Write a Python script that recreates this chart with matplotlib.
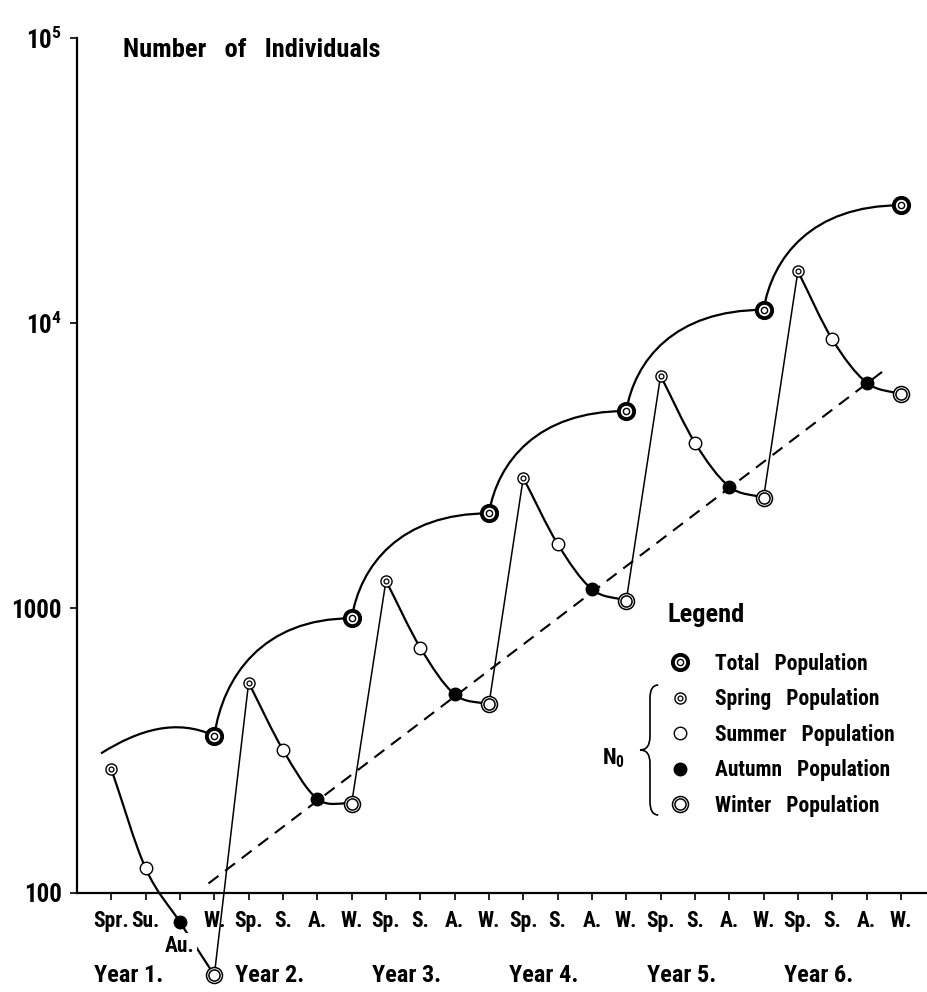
import numpy as np
import matplotlib
matplotlib.use('Agg')
import matplotlib.pyplot as plt
from matplotlib import font_manager
from matplotlib.path import Path
from matplotlib.patches import PathPatch
from matplotlib.lines import Line2D

# season positions 0..23 (Spr, Su, Au, W of year 1 then Sp, S, A, W ...)
tick_labels = ['Spr.', 'Su.', '', 'W.'] + ['Sp.', 'S.', 'A.', 'W.'] * 5
year_labels = ['Year 1.', 'Year 2.', 'Year 3.', 'Year 4.', 'Year 5.', 'Year 6.']

spring_x = [0, 4, 8, 12, 16, 20]
spring_y = [272, 547, 1247, 2864, 6531, 15200]
summer_x = [1, 5, 9, 13, 17, 21]
summer_y = [122, 318, 726, 1679, 3802, 8770]
autumn_x = [2, 6, 10, 14, 18, 22]
autumn_y = [79, 214, 498, 1164, 2667, 6181]
winter_x = [3, 7, 11, 15, 19, 23]
winter_y = [51.5, 206, 459, 1062, 2438, 5624]

# total population (first value is where the year 1 curve starts)
total_x = [-0.3, 3, 7, 11, 15, 19, 23]
total_y = [309, 356, 920, 2148, 4911, 11120, 25880]

# dashed trend line
trend_x = [2.83, 22.49]
trend_y = [108, 6790]

# pick a condensed face if one is installed
fonts = font_manager.fontManager.ttflist
names = {f.name for f in fonts}
fam, stretch, narrow = 'Liberation Sans', 'normal', False
for cand in ['Roboto Condensed', 'Liberation Sans Narrow', 'Open Sans Condensed',
             'Noto Sans Condensed', 'DejaVu Sans Condensed']:
    if cand in names:
        fam, narrow = cand, True
        break
if not narrow:
    for f in fonts:
        if f.stretch in ('condensed', 'semi-condensed') and f.name in (
                'DejaVu Sans', 'Noto Sans', 'Open Sans', 'Roboto'):
            fam, stretch, narrow = f.name, f.stretch, True
            break

plt.rcParams['font.family'] = fam
plt.rcParams['font.stretch'] = stretch
plt.rcParams['font.weight'] = 'bold'
plt.rcParams['mathtext.fontset'] = 'custom'
plt.rcParams['mathtext.rm'] = fam + ':bold'
plt.rcParams['mathtext.it'] = fam + ':bold'
plt.rcParams['mathtext.bf'] = fam + ':bold'

k_fs = 1.0 if narrow else 0.85
fs_tick = 15.5 * k_fs
fs_year = 17.5 * k_fs
fs_leg = 15.5 * k_fs
fs_title = 19 * k_fs


def smooth_path(xs, ys):
    # catmull-rom through the points, done in log space
    lx = np.asarray(xs, float)
    ly = np.log10(ys)
    mx = np.gradient(lx)
    my = np.gradient(ly)
    verts = [(lx[0], ly[0])]
    codes = [Path.MOVETO]
    for i in range(len(lx) - 1):
        verts += [(lx[i] + mx[i] / 3, ly[i] + my[i] / 3),
                  (lx[i + 1] - mx[i + 1] / 3, ly[i + 1] - my[i + 1] / 3),
                  (lx[i + 1], ly[i + 1])]
        codes += [Path.CURVE4] * 3
    verts = [(a, 10 ** b) for a, b in verts]
    return Path(verts, codes)


def total_path(xs, ys):
    lx = list(xs)
    ly = list(np.log10(ys))
    # year 1: gentle arc
    verts = [(lx[0], ly[0]),
             (lx[0] + 1.1, ly[0] + 0.083),
             (lx[1] - 1.1, ly[1] + 0.062),
             (lx[1], ly[1])]
    codes = [Path.MOVETO] + [Path.CURVE4] * 3
    # later years: fast rise then level off
    for i in range(1, len(lx) - 1):
        dl = ly[i + 1] - ly[i]
        verts += [(lx[i] + 0.25, ly[i] + 0.5 * dl),
                  (lx[i] + 1.4, ly[i + 1]),
                  (lx[i + 1], ly[i + 1])]
        codes += [Path.CURVE4] * 3
    verts = [(a, 10 ** b) for a, b in verts]
    return Path(verts, codes)


fig = plt.figure(figsize=(9.28, 9.92), dpi=100)
ax = fig.add_axes([77 / 928, 99 / 992, 851 / 928, 855 / 992])
ax.set_yscale('log')
ax.set_xlim(-1, 23.79)
ax.set_ylim(100, 1e5)

# seasonal curves (spring -> winter) and the jumps winter -> next spring
for k in range(6):
    xs = [spring_x[k], summer_x[k], autumn_x[k], winter_x[k]]
    ys = [spring_y[k], summer_y[k], autumn_y[k], winter_y[k]]
    ax.add_patch(PathPatch(smooth_path(xs, ys), fill=False, ec='black',
                           lw=1.6, clip_on=False, zorder=2))
    if k < 5:
        ax.plot([winter_x[k], spring_x[k + 1]], [winter_y[k], spring_y[k + 1]],
                color='black', lw=1.1, clip_on=False, zorder=2)

ax.add_patch(PathPatch(total_path(total_x, total_y), fill=False, ec='black',
                       lw=1.6, clip_on=False, zorder=2))

ax.plot(trend_x, trend_y, color='black', lw=1.5, dashes=(6, 4), zorder=2)

# markers
mk = dict(linestyle='none', marker='o', clip_on=False, zorder=4, mec='black')
ax.plot(total_x[1:], total_y[1:], ms=11, mfc='white', mew=2.8, **mk)
ax.plot(total_x[1:], total_y[1:], ms=4.5, mfc='white', mew=1.0, **mk)
ax.plot(spring_x, spring_y, ms=8, mfc='white', mew=1.0, **mk)
ax.plot(spring_x, spring_y, ms=3.5, mfc='white', mew=0.9, **mk)
ax.plot(summer_x, summer_y, ms=9, mfc='white', mew=1.0, **mk)
ax.plot(autumn_x, autumn_y, ms=9, mfc='black', mew=1.0, **mk)
ax.plot(winter_x, winter_y, ms=11.5, mfc='white', mew=1.1, **mk)
ax.plot(winter_x, winter_y, ms=8, mfc='white', mew=1.1, **mk)

# axes styling
for s in ['top', 'right']:
    ax.spines[s].set_visible(False)
for s in ['left', 'bottom']:
    ax.spines[s].set_linewidth(1.6)
ax.set_xticks(range(24))
ax.set_xticklabels(tick_labels, fontsize=fs_tick)
ax.set_yticks([100, 1000, 1e4, 1e5])
ax.set_yticklabels(['100', '1000', r'$10^{4}$', r'$10^{5}$'], fontsize=18)
ax.yaxis.set_minor_locator(matplotlib.ticker.NullLocator())
ax.tick_params(axis='x', length=5, width=1.2, pad=7)
ax.tick_params(axis='y', length=5, width=1.2, pad=6)

ax.annotate('Au.', xy=(2, 0), xycoords=('data', 'axes fraction'),
            xytext=(0, -53), textcoords='offset pixels', ha='center', va='center',
            fontsize=fs_tick, zorder=5,
            bbox=dict(boxstyle='square,pad=0.1', fc='white', ec='none'))

year_pos = [0.5, 4.6, 8.6, 12.6, 16.6, 20.6]
for xp, lab in zip(year_pos, year_labels):
    ax.annotate(lab, xy=(xp, 0), xycoords=('data', 'axes fraction'),
                xytext=(0, -82), textcoords='offset pixels', ha='center', va='center',
                fontsize=fs_year, annotation_clip=False)

ax.text(0.054, 0.986, 'Number   of   Individuals', transform=ax.transAxes,
        fontsize=fs_title, ha='left', va='center')

# legend
def ring(ms, mew, fill='white'):
    return Line2D([], [], linestyle='none', marker='o', ms=ms, mfc=fill, mec='black', mew=mew)

handles = [(ring(11, 2.8), ring(4.5, 1.0)),
           (ring(8, 1.0), ring(3.5, 0.9)),
           ring(9, 1.0),
           ring(9, 1.0, 'black'),
           (ring(11.5, 1.1), ring(8, 1.1))]
labels = ['Total   Population', 'Spring   Population', 'Summer   Population',
          'Autumn   Population', 'Winter   Population']
ax.text(0.694, 0.325, 'Legend', transform=ax.transAxes, fontsize=fs_title,
        ha='left', va='center')
leg = ax.legend(handles, labels, loc='upper left', bbox_to_anchor=(0.697, 0.281),
                frameon=False, fontsize=fs_leg, handlelength=0.95, handletextpad=1.15,
                labelspacing=0.63, borderpad=0, borderaxespad=0)

# brace with N0
bx = 0.683
sx = 0.6733
tx = 0.6616
brace = Path([(bx, 0.2433), (sx, 0.2433), (sx, 0.228), (sx, 0.183),
              (sx, 0.1673), (tx, 0.1673), (sx, 0.1673), (sx, 0.152),
              (sx, 0.107), (sx, 0.0912), (bx, 0.0912)],
             [Path.MOVETO, Path.CURVE3, Path.CURVE3, Path.LINETO,
              Path.CURVE3, Path.CURVE3, Path.CURVE3, Path.CURVE3,
              Path.LINETO, Path.CURVE3, Path.CURVE3])
ax.add_patch(PathPatch(brace, transform=ax.transAxes, fill=False, lw=1.2,
                       ec='black', clip_on=False))
ax.text(0.617, 0.158, r'N$_{0}$', transform=ax.transAxes, fontsize=16,
        ha='left', va='center')

fig.savefig('out.png', dpi=100)
